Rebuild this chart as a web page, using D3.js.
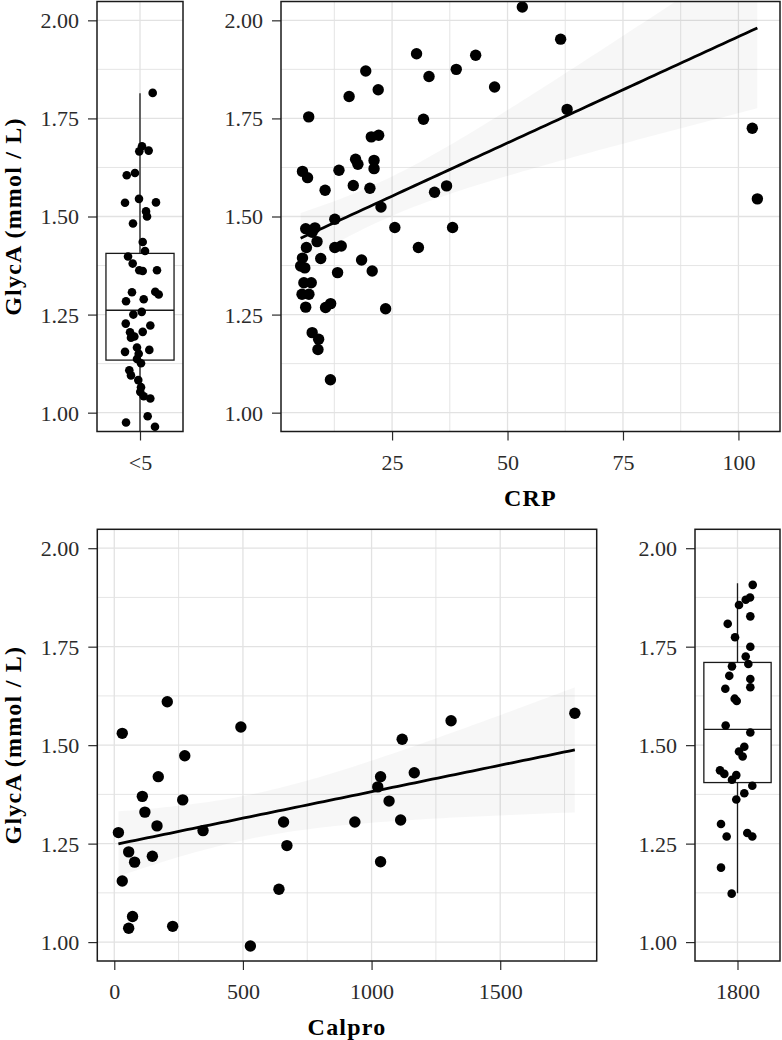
<!DOCTYPE html>
<html><head><meta charset="utf-8">
<script src="https://cdn.jsdelivr.net/npm/d3@7"></script>
<style>body{margin:0;background:#fff}svg{display:block}
svg text{font-family:"Liberation Serif","Times New Roman",serif;}</style>
</head><body><svg id="c" width="782" height="1040"></svg>
<script>
// ---------- data ----------
const yTicks = [1.00, 1.25, 1.50, 1.75, 2.00];
const yMinor = [1.125, 1.375, 1.625, 1.875];
const yDomain = [0.952, 2.048];
const crpTicks = [25, 50, 75, 100];
const crpMinor = [12.5, 37.5, 62.5, 87.5];
const calproTicks = [0, 500, 1000, 1500];
const calproMinor = [250, 750, 1250, 1750];
const lowCategory = ["<5"];
const highCategory = ["1800"];

const crpX = [53.2,30.3,43.1,19.3,33.0,38.9,47.2,15.7,22.0,6.95,31.8,20.5,22.1,17.1,17.6,21.1,21.1,5.6,6.7,13.5,16.6,20.2,10.5,36.8,34.2,22.6,12.6,25.6,38.1,6.3,8.3,7.7,8.75,6.45,12.6,14.0,30.7,5.6,9.55,18.4,5.2,6.1,13.2,20.7,5.9,7.5,5.5,7.0,6.3,10.6,11.7,23.6,7.7,9.1,8.95,11.65,61.5,62.9,103.0,104.1];
const crpY = [2.034,1.915,1.911,1.871,1.857,1.875,1.830,1.806,1.823,1.754,1.748,1.703,1.707,1.646,1.633,1.643,1.622,1.615,1.599,1.618,1.579,1.572,1.567,1.578,1.562,1.524,1.493,1.472,1.472,1.469,1.471,1.460,1.436,1.421,1.421,1.425,1.421,1.394,1.393,1.389,1.374,1.369,1.357,1.361,1.331,1.331,1.302,1.302,1.269,1.268,1.278,1.265,1.204,1.187,1.161,1.084,1.952,1.773,1.725,1.545];

const lowY = [1.815,1.679,1.666,1.668,1.605,1.611,1.535,1.545,1.536,1.513,1.500,1.482,1.435,1.412,1.398,1.380,1.363,1.361,1.363,1.307,1.308,1.301,1.289,1.284,1.257,1.250,1.227,1.222,1.205,1.206,1.191,1.194,1.155,1.166,1.160,1.150,1.137,1.126,1.108,1.095,1.083,1.065,1.053,1.042,1.036,0.975,0.991,0.964];
const lowJitter = [0.177,0.028,-0.010,0.121,-0.185,-0.070,-0.209,-0.014,0.223,0.084,0.098,-0.098,0.038,0.070,-0.167,-0.102,-0.010,0.038,0.237,-0.112,0.213,0.261,0.052,-0.195,0.024,-0.093,-0.199,0.144,-0.139,0.038,-0.126,-0.079,-0.209,-0.042,0.130,-0.018,-0.042,0.014,-0.149,-0.126,-0.024,0.014,0.004,0.052,0.144,-0.195,0.107,0.209];
// [lower whisker, Q1, median, Q3, upper whisker]
const lowBox = [0.94, 1.134, 1.261, 1.406, 1.814];

const calproX = [206,31,492,274,171,109,266,119,166,16,345,658,671,56,79,148,31,640,71,56,227,529,935,1035,1024,1068,1035,1119,1166,1113,1309,1790];
const calproY = [1.610,1.530,1.546,1.473,1.420,1.370,1.361,1.330,1.295,1.278,1.283,1.305,1.245,1.229,1.203,1.218,1.155,1.134,1.065,1.035,1.040,0.990,1.305,1.420,1.394,1.358,1.204,1.515,1.430,1.310,1.562,1.581];

const highY = [1.907,1.856,1.869,1.875,1.808,1.827,1.774,1.750,1.725,1.700,1.706,1.676,1.668,1.647,1.643,1.618,1.612,1.550,1.532,1.496,1.484,1.471,1.436,1.427,1.424,1.412,1.397,1.378,1.362,1.300,1.268,1.277,1.268,1.189,1.123];
const highJitter = [0.215,0.021,0.116,0.177,-0.138,0.181,-0.035,0.181,0.116,-0.078,0.153,-0.116,0.181,0.181,-0.172,-0.040,-0.011,-0.167,0.181,0.096,0.021,0.073,-0.247,-0.186,-0.017,-0.078,0.209,0.096,-0.017,-0.233,-0.153,0.138,0.209,-0.233,-0.082];
const highBox = [1.124, 1.405, 1.540, 1.710, 1.911];

const yTitle = "GlycA (mmol / L)";

// ---------- drawing ----------
const svg = d3.select("#c");
const FONT = '"Liberation Serif", "Times New Roman", serif';
const TICKCOL = "#2b2b2b";
const GRID = "#e2e2e2";
let clipId = 0;

function makePanel(L, R, T, B, xScaleDomain, xTicks, xMinor, xLabels, xTitle, showYTitle) {
  const x = d3.scaleLinear().domain(xScaleDomain).range([L, R]);
  const y = d3.scaleLinear().domain(yDomain).range([B, T]);
  const g = svg.append("g");
  const id = "clip" + (clipId++);
  svg.append("clipPath").attr("id", id).append("rect")
    .attr("x", L).attr("y", T).attr("width", R - L).attr("height", B - T);
  const inner = g.append("g").attr("clip-path", `url(#${id})`);
  // grid
  inner.selectAll(".gym").data(yMinor).join("line")
    .attr("x1", L).attr("x2", R).attr("y1", d => y(d)).attr("y2", d => y(d))
    .attr("stroke", GRID).attr("stroke-width", 0.9);
  inner.selectAll(".gxm").data(xMinor).join("line")
    .attr("y1", T).attr("y2", B).attr("x1", d => x(d)).attr("x2", d => x(d))
    .attr("stroke", GRID).attr("stroke-width", 0.9);
  inner.selectAll(".gy").data(yTicks).join("line")
    .attr("x1", L).attr("x2", R).attr("y1", d => y(d)).attr("y2", d => y(d))
    .attr("stroke", GRID).attr("stroke-width", 1.3);
  inner.selectAll(".gx").data(xTicks).join("line")
    .attr("y1", T).attr("y2", B).attr("x1", d => x(d)).attr("x2", d => x(d))
    .attr("stroke", GRID).attr("stroke-width", 1.3);
  // axes
  const ya = d3.axisLeft(y).tickValues(yTicks).tickFormat(d3.format(".2f")).tickSize(9).tickPadding(9);
  const yg = g.append("g").attr("transform", `translate(${L},0)`).call(ya);
  const xa = d3.axisBottom(x).tickValues(xTicks).tickFormat((d, i) => xLabels ? xLabels[i] : d).tickSize(9).tickPadding(8);
  const xg = g.append("g").attr("transform", `translate(0,${B})`).call(xa);
  [yg, xg].forEach(a => {
    a.attr("font-family", FONT).attr("font-size", 22);
    a.select(".domain").remove();
    a.selectAll(".tick line").attr("stroke", TICKCOL).attr("stroke-width", 1.2);
    a.selectAll(".tick text").attr("fill", TICKCOL)
      .attr("font-family", FONT).attr("font-size", 22)
      .style("font-family", FONT).style("font-size", "22px");
  });
  yg.selectAll(".tick text").attr("dy", "0.34em");
  xg.selectAll(".tick text").attr("dy", "0").attr("y", 38);
  if (xTitle) {
    g.append("text").attr("x", (L + R) / 2).attr("y", B + 74).attr("text-anchor", "middle")
      .style("font-family", FONT).style("font-size", "24px").style("font-weight", "bold")
      .style("letter-spacing", "1.2px").text(xTitle);
  }
  if (showYTitle) {
    g.append("text").attr("transform", `translate(21,${(T + B) / 2}) rotate(-90)`)
      .attr("text-anchor", "middle")
      .style("font-family", FONT).style("font-size", "24px").style("font-weight", "bold")
      .style("letter-spacing", "1.2px").text(yTitle);
  }
  return {x, y, g, inner, border: () => g.append("rect").attr("x", L).attr("y", T)
    .attr("width", R - L).attr("height", B - T).attr("fill", "none")
    .attr("stroke", "#1a1a1a").attr("stroke-width", 1.5)};
}

function drawBox(p, stats, yv, jit) {
  const [lo, q1, med, q3, hi] = stats;
  const cx = p.x(1), hw = (p.x(1.475) - p.x(0.525)) / 2;
  const ln = (x1, y1, x2, y2) => p.inner.append("line").attr("x1", x1).attr("y1", y1)
    .attr("x2", x2).attr("y2", y2).attr("stroke", "#1a1a1a").attr("stroke-width", 1.3);
  ln(cx, p.y(q3), cx, p.y(hi));
  ln(cx, p.y(q1), cx, p.y(lo));
  p.inner.append("rect").attr("x", cx - hw).attr("y", p.y(q3)).attr("width", 2 * hw)
    .attr("height", p.y(q1) - p.y(q3)).attr("fill", "#fff").attr("stroke", "#1a1a1a").attr("stroke-width", 1.3);
  ln(cx - hw, p.y(med), cx + hw, p.y(med));
  p.inner.selectAll(".jp").data(yv).join("circle")
    .attr("cx", (d, i) => p.x(1 + jit[i])).attr("cy", d => p.y(d)).attr("r", 4.3).attr("fill", "#000");
}

function tq(df) { return 1.96 + 2.4 / df; }

function drawScatter(p, xs, ys) {
  const n = xs.length;
  const mx = d3.mean(xs), my = d3.mean(ys);
  let sxx = 0, sxy = 0;
  for (let i = 0; i < n; i++) { sxx += (xs[i] - mx) ** 2; sxy += (xs[i] - mx) * (ys[i] - my); }
  const b = sxy / sxx, a = my - b * mx;
  let sse = 0;
  for (let i = 0; i < n; i++) sse += (ys[i] - a - b * xs[i]) ** 2;
  const s = Math.sqrt(sse / (n - 2)), t = tq(n - 2);
  const [x0, x1] = d3.extent(xs);
  const grid = d3.range(81).map(k => x0 + (x1 - x0) * k / 80);
  const band = grid.map(xv => {
    const f = a + b * xv;
    const se = s * Math.sqrt(1 / n + (xv - mx) ** 2 / sxx);
    return {x: xv, f, lo: f - t * se, hi: f + t * se};
  });
  p.inner.append("path").datum(band)
    .attr("d", d3.area().x(d => p.x(d.x)).y0(d => p.y(d.lo)).y1(d => p.y(d.hi)))
    .attr("fill", "#000").attr("fill-opacity", 0.03);
  p.inner.selectAll(".pt").data(xs).join("circle")
    .attr("cx", d => p.x(d)).attr("cy", (d, i) => p.y(ys[i])).attr("r", 5.7).attr("fill", "#000");
  p.inner.append("path").datum(band)
    .attr("d", d3.line().x(d => p.x(d.x)).y(d => p.y(d.f)))
    .attr("fill", "none").attr("stroke", "#000").attr("stroke-width", 2.8);
}

// top-left: CRP <5 boxplot
const p1 = makePanel(97, 183, 1.5, 431.5, [0.4, 1.6], [1], [], lowCategory, null, true);
drawBox(p1, lowBox, lowY, lowJitter); p1.border();
// top-right: CRP scatter
const p2 = makePanel(281, 780, 1.5, 431.5, [0.95, 109], crpTicks, crpMinor, null, "CRP", false);
drawScatter(p2, crpX, crpY); p2.border();
// bottom-left: Calpro scatter
const p3 = makePanel(97.3, 596.7, 529.3, 961, [-66, 1875], calproTicks, calproMinor, null, "Calpro", true);
drawScatter(p3, calproX, calproY); p3.border();
// bottom-right: Calpro 1800 boxplot
const p4 = makePanel(695, 780, 529.3, 961, [0.4, 1.6], [1], [], highCategory, null, false);
drawBox(p4, highBox, highY, highJitter); p4.border();
</script></body></html>
